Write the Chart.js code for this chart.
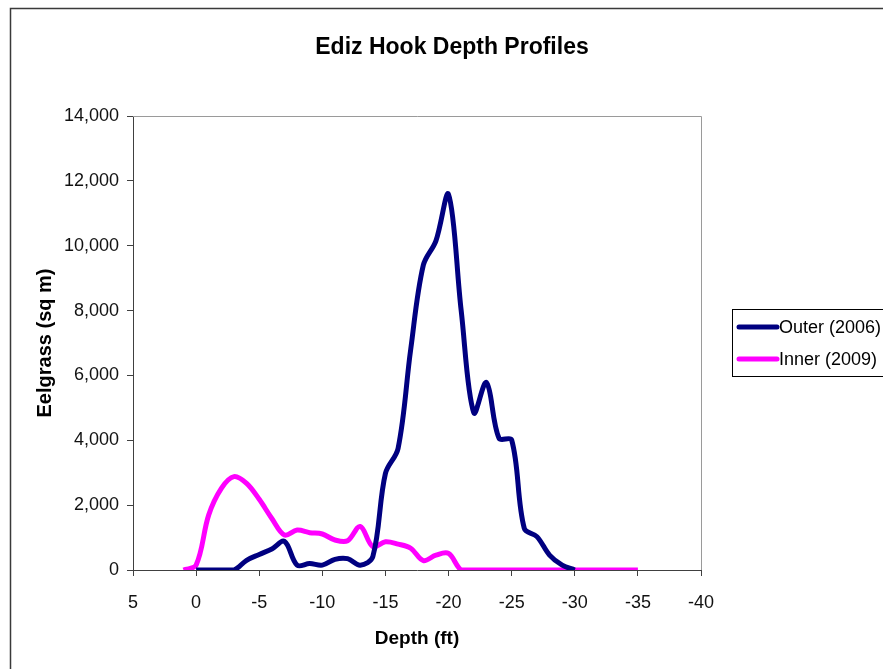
<!DOCTYPE html>
<html>
<head>
<meta charset="utf-8">
<script src="https://cdn.jsdelivr.net/npm/chart.js@4/dist/chart.umd.min.js"></script>
<style>
  html, body { margin: 0; padding: 0; background: #ffffff; }
  #wrap { position: relative; width: 883px; height: 669px; }
</style>
</head>
<body>
<div id="wrap"><canvas id="c" width="883" height="669"></canvas></div>
<script>
// ---- Text ----
const TITLE = 'Ediz Hook Depth Profiles';
const X_TITLE = 'Depth (ft)';
const Y_TITLE = 'Eelgrass (sq m)';
const SERIES_NAMES = ['Outer (2006)', 'Inner (2009)'];

// ---- Tick labels ----
const xTicks = [5, 0, -5, -10, -15, -20, -25, -30, -35, -40];
const yTicks = [0, 2000, 4000, 6000, 8000, 10000, 12000, 14000];

// ---- Outer (2006) ----
const outerDepths = [0, -1, -2, -3, -4, -5, -6, -7, -8, -9, -10, -11, -12, -13, -14, -15,
  -16, -17, -18, -19, -20, -21, -22, -23, -24, -25, -26, -27, -28, -29, -30];
const outerValues = [0, 0, 0, 0, 300, 480, 650, 880, 150, 200, 150, 330, 350, 150, 410, 2980,
  3750, 6800, 9400, 10150, 11580, 8000, 4850, 5780, 4060, 4010, 1280, 1030, 460, 150, 0];

// ---- Inner (2009) ----
const innerDepths = [1, 0, -1, -2, -3, -4, -5, -6, -7, -8, -9, -10, -11, -12, -13, -14, -15,
  -16, -17, -18, -19, -20, -21, -22, -23, -24, -25, -26, -27, -28, -29, -30, -31, -32, -33, -34, -35];
const innerValues = [0, 150, 1700, 2520, 2880, 2670, 2180, 1590, 1080, 1230, 1150, 1110, 925, 900, 1340, 720, 870,
  800, 670, 290, 460, 510, 0, 0, 0, 0, 0, 0, 0, 0, 0, 0, 0, 0, 0, 0, 0];

const COLORS = ['#000080', '#FF00FF'];
const FONT = "'Liberation Sans', Arial, Helvetica, sans-serif";

function pairs(xs, ys) { return xs.map((x, i) => ({ x: x, y: ys[i] })); }

const decorPlugin = {
  id: 'decor',
  beforeDraw(chart) {
    const ctx = chart.ctx;
    ctx.save();
    ctx.fillStyle = '#ffffff';
    ctx.fillRect(0, 0, chart.width, chart.height);
    // outer chart frame (continues past right/bottom edge)
    ctx.strokeStyle = '#3a3a3a';
    ctx.lineWidth = 1.5;
    ctx.beginPath();
    ctx.moveTo(10.5, 700);
    ctx.lineTo(10.5, 8.5);
    ctx.lineTo(900, 8.5);
    ctx.stroke();
    // title
    ctx.fillStyle = '#000000';
    ctx.font = 'bold 23px ' + FONT;
    ctx.textAlign = 'center';
    ctx.textBaseline = 'alphabetic';
    ctx.fillText(TITLE, 452, 54);
    ctx.restore();
  },
  afterDatasetsDraw(chart) {
    const ctx = chart.ctx;
    const a = chart.chartArea;
    ctx.save();
    // plot area top/right border
    ctx.strokeStyle = '#9a9a9a';
    ctx.lineWidth = 1;
    ctx.beginPath();
    ctx.moveTo(a.left, Math.round(a.top) + 0.5);
    ctx.lineTo(Math.round(a.right) + 0.5, Math.round(a.top) + 0.5);
    ctx.lineTo(Math.round(a.right) + 0.5, a.bottom);
    ctx.stroke();
    // legend (box continues past the right edge of the picture)
    const lx = 732.5, ly = 309.5, lw = 200, lh = 67;
    ctx.fillStyle = '#ffffff';
    ctx.fillRect(lx, ly, lw, lh);
    ctx.strokeStyle = '#000000';
    ctx.lineWidth = 1;
    ctx.strokeRect(lx, ly, lw, lh);
    ctx.font = '18px ' + FONT;
    ctx.textAlign = 'left';
    ctx.textBaseline = 'middle';
    const rows = [327, 359];
    chart.data.datasets.forEach((ds, i) => {
      ctx.strokeStyle = ds.borderColor;
      ctx.lineWidth = 5;
      ctx.lineCap = 'round';
      ctx.beginPath();
      ctx.moveTo(739, rows[i]);
      ctx.lineTo(777, rows[i]);
      ctx.stroke();
      ctx.fillStyle = '#000000';
      ctx.fillText(ds.label, 779, rows[i] + 1);
    });
    ctx.restore();
  }
};

new Chart(document.getElementById('c'), {
  type: 'line',
  data: {
    datasets: [
      { label: SERIES_NAMES[0], data: pairs(outerDepths, outerValues), borderColor: COLORS[0],
        backgroundColor: COLORS[0], borderWidth: 5, pointRadius: 0, tension: 0.35, fill: false },
      { label: SERIES_NAMES[1], data: pairs(innerDepths, innerValues), borderColor: COLORS[1],
        backgroundColor: COLORS[1], borderWidth: 5, pointRadius: 0, tension: 0.35, fill: false }
    ]
  },
  options: {
    responsive: false,
    animation: false,
    devicePixelRatio: 1,
    layout: { padding: { left: 10, top: 116, right: 182, bottom: 0 } },
    plugins: {
      legend: { display: false },
      title: { display: false },
      tooltip: { enabled: false }
    },
    scales: {
      x: {
        type: 'linear',
        reverse: true,
        min: -40,
        max: 5,
        afterBuildTicks: (s) => { s.ticks = xTicks.map(v => ({ value: v })); },
        afterFit: (s) => { s.height = 99; },
        ticks: {
          color: '#111111',
          font: { family: FONT, size: 18 },
          padding: 16,
          maxRotation: 0,
          autoSkip: false,
          callback: (v) => String(v)
        },
        grid: { display: true, drawOnChartArea: false, drawTicks: true, tickLength: 6, color: '#404040' },
        border: { display: true, color: '#404040', width: 1 },
        title: { display: true, text: X_TITLE, color: '#000000',
          font: { family: FONT, size: 19, weight: 'bold' }, padding: { top: 0, bottom: 19 } }
      },
      y: {
        type: 'linear',
        min: 0,
        max: 14000,
        afterBuildTicks: (s) => { s.ticks = yTicks.map(v => ({ value: v })); },
        afterFit: (s) => { s.width = 123; },
        ticks: {
          color: '#111111',
          font: { family: FONT, size: 18 },
          padding: 8,
          callback: (v) => Number(v).toLocaleString('en-US')
        },
        grid: { display: true, drawOnChartArea: false, drawTicks: true, tickLength: 6, color: '#404040' },
        border: { display: true, color: '#404040', width: 1 },
        title: { display: true, text: Y_TITLE, color: '#000000',
          font: { family: FONT, size: 20, weight: 'bold' }, padding: { top: 23, bottom: 0 } }
      }
    }
  },
  plugins: [decorPlugin]
});
</script>
</body>
</html>
